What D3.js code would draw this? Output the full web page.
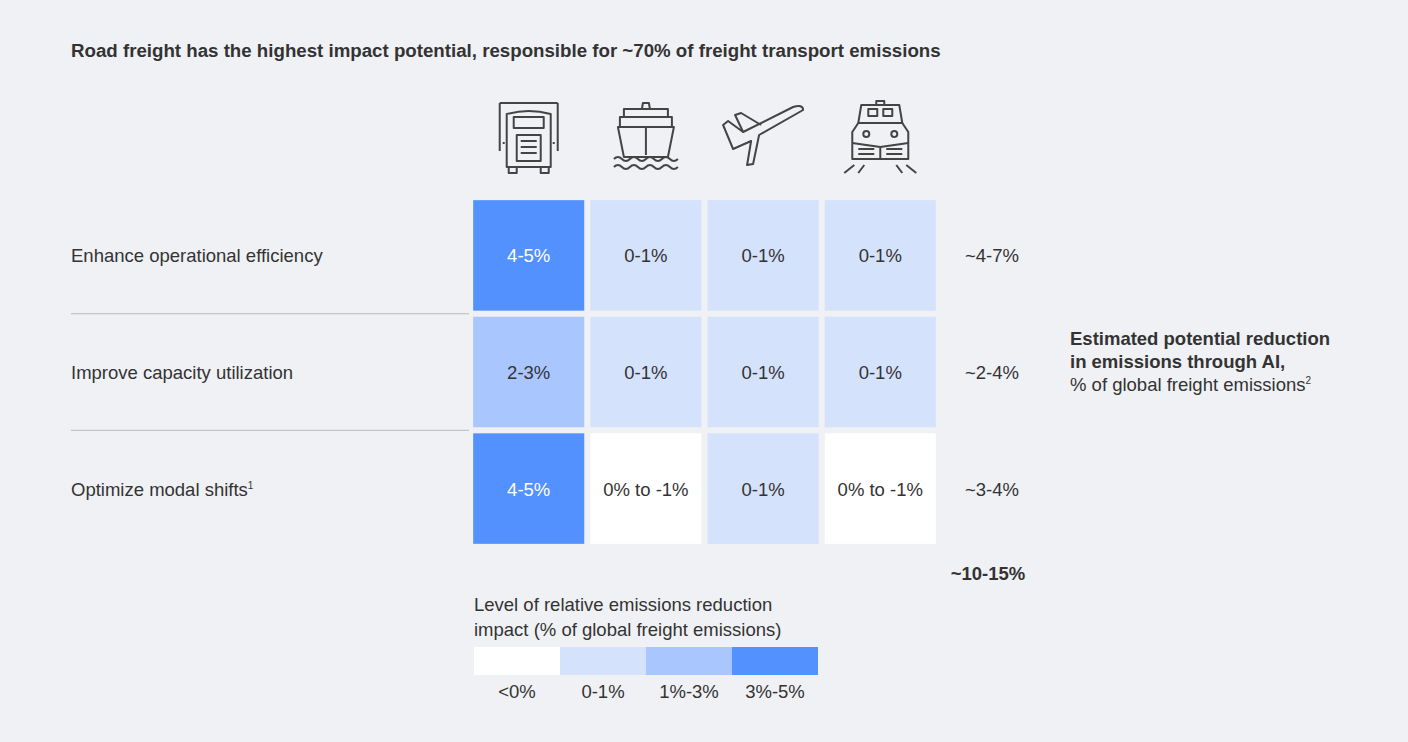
<!DOCTYPE html>
<html><head><meta charset="utf-8">
<script src="https://cdn.jsdelivr.net/npm/d3@7"></script>
<style>body{margin:0;background:#f0f1f5;font-family:"Liberation Sans",Arial,sans-serif}</style>
</head><body><div id="chart"></div>
<script>
var levers = ["Enhance operational efficiency", "Improve capacity utilization", "Optimize modal shifts"];
var modes = ["road", "sea", "air", "rail"];
var labels = [["4-5%","0-1%","0-1%","0-1%"],["2-3%","0-1%","0-1%","0-1%"],["4-5%","0% to -1%","0-1%","0% to -1%"]];
var levels = [[3,1,1,1],[2,1,1,1],[3,0,1,0]];
var totals = ["~4-7%", "~2-4%", "~3-4%"];
var legendLabels = ["<0%", "0-1%", "1%-3%", "3%-5%"];
var colors = ["#ffffff", "#d4e2fc", "#a9c6ff", "#5291ff"];

var W = 1408, H = 742, FS = 18.5;
var svg = d3.select('#chart').append('svg').attr('width', W).attr('height', H);
svg.append('rect').attr('width', W).attr('height', H).attr('fill', '#f0f1f5');

var x = d3.scaleBand().domain(modes).range([472, 937]).paddingInner(0.052).paddingOuter(0.01);
var y = d3.scaleBand().domain(levers).range([199, 545]).paddingInner(0.052).paddingOuter(0.01);
var color = d3.scaleOrdinal().domain([0,1,2,3]).range(colors);

svg.append('text').attr('x', 71).attr('y', 57).attr('font-size', 18.7).attr('font-weight', 'bold')
   .attr('fill', '#333').text('Road freight has the highest impact potential, responsible for ~70% of freight transport emissions');

// row labels + separators
levers.forEach(function(l, i) {
  var t = svg.append('text').attr('x', 71).attr('y', y(l) + y.bandwidth()/2 + 7)
     .attr('font-size', FS).attr('fill', '#333').text(l);
  if (i == 2) t.append('tspan').attr('font-size', 10).attr('dy', -7).text('1');
  if (i > 0) svg.append('line').attr('x1', 71).attr('x2', 469)
     .attr('y1', y(l) - 3).attr('y2', y(l) - 3).attr('stroke', '#bbb');
});

levels.forEach(function(row, i) {
  row.forEach(function(v, j) {
    svg.append('rect').attr('x', x(modes[j])).attr('y', y(levers[i]))
       .attr('width', x.bandwidth()).attr('height', y.bandwidth()).attr('fill', color(v));
    svg.append('text').attr('x', x(modes[j]) + x.bandwidth()/2).attr('y', y(levers[i]) + y.bandwidth()/2 + 7)
       .attr('text-anchor', 'middle').attr('font-size', FS).attr('fill', v == 3 ? '#fff' : '#333')
       .text(labels[i][j]);
  });
  svg.append('text').attr('x', 992).attr('y', y(levers[i]) + y.bandwidth()/2 + 7)
     .attr('text-anchor', 'middle').attr('font-size', FS).attr('fill', '#333').text(totals[i]);
});

svg.append('text').attr('x', 988).attr('y', 580).attr('text-anchor', 'middle').attr('font-size', FS)
   .attr('font-weight', 'bold').attr('fill', '#333').text('~10-15%');

var side = svg.append('text').attr('font-size', FS).attr('fill', '#333');
side.append('tspan').attr('x', 1070).attr('y', 345).attr('font-weight', 'bold').text('Estimated potential reduction');
side.append('tspan').attr('x', 1070).attr('y', 368).attr('font-weight', 'bold').text('in emissions through AI,');
side.append('tspan').attr('x', 1070).attr('y', 391).text('% of global freight emissions');
side.append('tspan').attr('font-size', 10).attr('dy', -7).text('2');

// legend
var lx = d3.scaleBand().domain(legendLabels).range([474, 818]);
var lt = svg.append('text').attr('font-size', FS).attr('fill', '#333');
lt.append('tspan').attr('x', 474).attr('y', 611).text('Level of relative emissions reduction');
lt.append('tspan').attr('x', 474).attr('y', 636).text('impact (% of global freight emissions)');
legendLabels.forEach(function(l, i) {
  svg.append('rect').attr('x', lx(l)).attr('y', 647).attr('width', lx.bandwidth()).attr('height', 28).attr('fill', colors[i]);
  svg.append('text').attr('x', lx(l) + lx.bandwidth()/2).attr('y', 698).attr('text-anchor', 'middle')
     .attr('font-size', FS).attr('fill', '#333').text(l);
});

// icons
function icon(m, paths) {
  var g = svg.append('g').attr('transform', 'translate(' + (x(m) + x.bandwidth()/2) + ',137)')
     .attr('fill', 'none').attr('stroke', '#444').attr('stroke-width', 2).attr('stroke-linejoin', 'round');
  paths.forEach(function(p) { g.append('path').attr('d', p); });
}
icon('road', ['M-29,-34V14M29,-34V14M-29,-34H29',
  'M-22,-23Q0,-29 22,-23V30H-22Z', 'M-15,-20H15V-9H-15Z', 'M-12,-2H12V24H-12Z',
  'M-8,4H8M-8,10H8M-8,16H8', 'M-20,30V36H-12V30M12,30V36H20V30', 'M-24,6H-26M24,6H26']);
icon('sea', ['M-3,-34H3L4,-28H-4Z', 'M-22,-28H22V-20H-22Z', 'M-26,-20H26V-10H-26Z',
  'M-28,-10H28L22,20H-22Z', 'M0,-10V18', 'M-32,22q4,-4 8,0t8,0t8,0t8,0t8,0t8,0t8,0t8,0',
  'M-32,30q4,-4 8,0t8,0t8,0t8,0t8,0t8,0t8,0t8,0']);
icon('air', ['M-40,-12L-35,-16L-20,-5L30,-30Q40,-33 40,-27L-4,-2L-10,27L-16,28L-12,4L-30,12Z',
  'M-20,-5L-28,-22L-22,-24L-2,-12']);
icon('rail', ['M-4,-36H4V-32H-4Z', 'M-19,-32H19L22,-14H-22Z', 'M-12,-28H-3V-21H-12ZM3,-28H12V-21H3Z',
  'M-22,-14L-28,-5V22H28V-5L22,-14', 'M-14,-3m-3,0a3,3 0 1,0 6,0a3,3 0 1,0 -6,0M14,-3m-3,0a3,3 0 1,0 6,0a3,3 0 1,0 -6,0',
  'M-28,6L0,10L28,6M0,10V22', 'M-22,12H-6M-22,17H-6M6,12H22M6,17H22',
  'M-26,28L-36,36M-16,28L-22,36M16,28L22,36M26,28L36,36']);
</script></body></html>
